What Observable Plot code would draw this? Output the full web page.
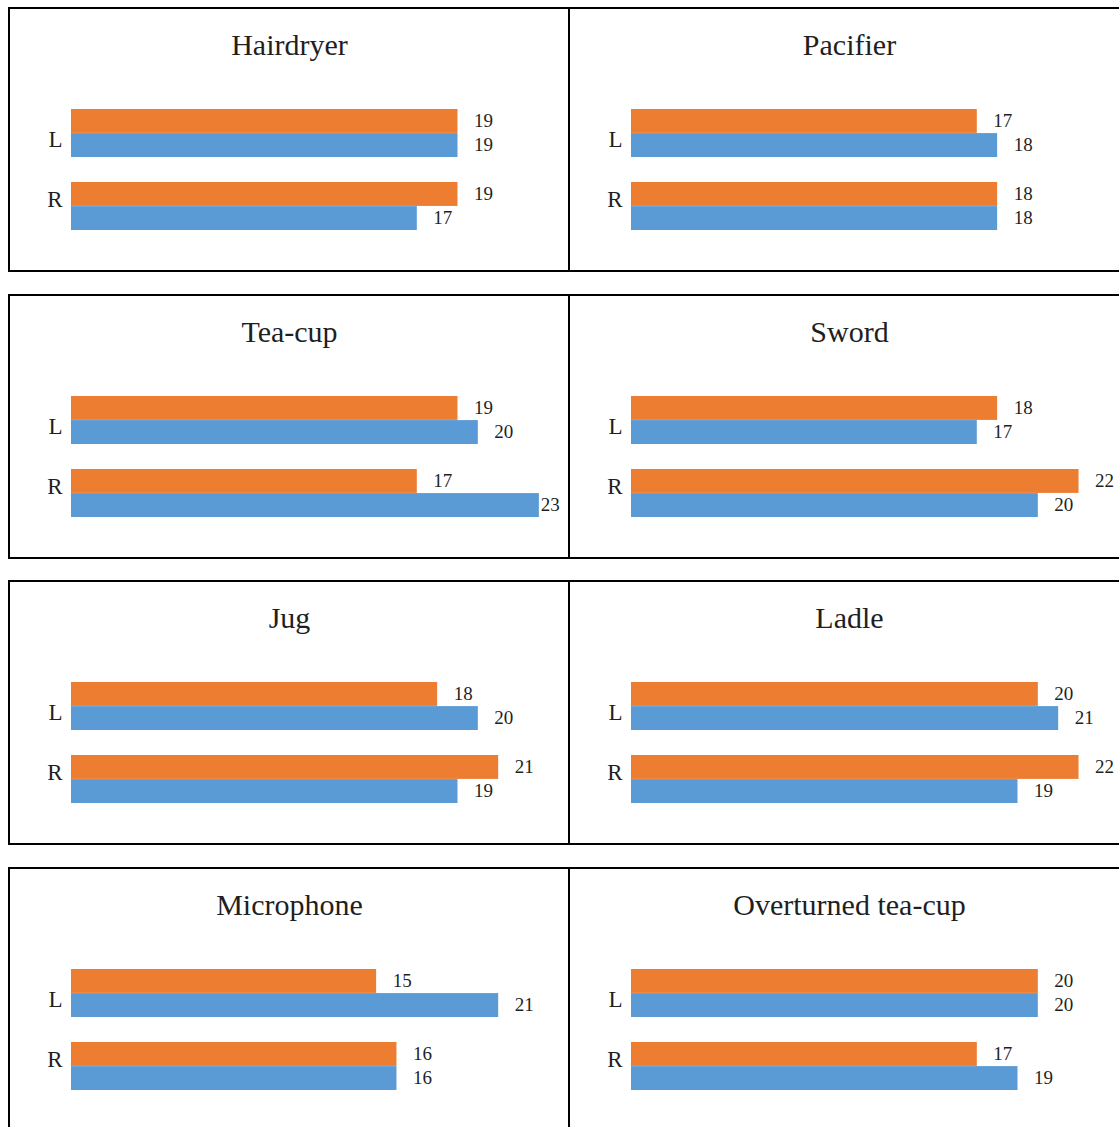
<!DOCTYPE html>
<html>
<head>
<meta charset="utf-8">
<script src="https://cdn.jsdelivr.net/npm/d3@7"></script>
<script src="https://cdn.jsdelivr.net/npm/@observablehq/plot@0.6"></script>
<style>
  html, body { margin: 0; padding: 0; background: #fff; overflow: hidden; }
  #grid { position: relative; width: 1119px; height: 1127px; overflow: hidden; }
  .panel { position: absolute; box-sizing: border-box; border: 2px solid #000; width: 562px; height: 265px; }
  .panel svg { display: block; }
</style>
</head>
<body>
<div id="grid"></div>
<script>
// Objects, one small panel each (read row by row, left to right)
const objects = ["Hairdryer", "Pacifier", "Tea-cup", "Sword", "Jug", "Ladle", "Microphone", "Overturned tea-cup"];
const sides = ["L", "R"];

// Counts per object: first (orange) and second (blue) series, for the L and R sides
const firstL  = [19, 17, 19, 18, 18, 20, 15, 20];
const secondL = [19, 18, 20, 17, 20, 21, 21, 20];
const firstR  = [19, 18, 17, 22, 21, 22, 16, 17];
const secondR = [17, 18, 23, 20, 19, 19, 16, 19];

const ORANGE = "#ED7D31";
const BLUE = "#5B9BD5";
const INK = "#1f1f1f";
const FONT = "'Liberation Serif', 'DejaVu Serif', serif";

// Panel geometry (inner box of each bordered panel)
const PANEL_W = 558, PANEL_H = 261;
const ROW_STEP = 286.7, COL_STEP = 560;
const marginLeft = 61, marginRight = 8.8, marginTop = 99.8, marginBottom = 39.8;
const xMax = 24;
const pxPerUnit = (PANEL_W - marginLeft - marginRight) / xMax;
const bandPadding = 0.342;
const bandwidth = (PANEL_H - marginTop - marginBottom) / (sides.length - bandPadding) * (1 - bandPadding);
const half = bandwidth / 2;

// Value labels sit 16px past the bar end, but stay inside the plot area
const labelGap = 16, labelWidth = 19;
const labelX = v => Math.min(v, xMax - (labelGap + labelWidth) / pxPerUnit);

const grid = document.getElementById("grid");

objects.forEach((name, i) => {
  const col = i % 2, row = Math.floor(i / 2);
  const rows = sides.map(side => ({
    side,
    first: side === "L" ? firstL[i] : firstR[i],
    second: side === "L" ? secondL[i] : secondR[i]
  }));

  const chart = Plot.plot({
    width: PANEL_W,
    height: PANEL_H,
    marginLeft, marginRight, marginTop, marginBottom,
    style: { fontFamily: FONT, background: "transparent", color: INK, overflow: "visible" },
    x: { domain: [0, xMax], axis: null },
    y: { domain: sides, paddingInner: bandPadding, paddingOuter: 0, axis: null },
    marks: [
      Plot.barX(rows, { x: "first", y: "side", fill: ORANGE, insetBottom: half }),
      Plot.barX(rows, { x: "second", y: "side", fill: BLUE, insetTop: half }),
      Plot.text(rows, {
        x: d => labelX(d.first), y: "side", text: "first",
        dx: labelGap, dy: -half / 2 - 0.5, textAnchor: "start", fontSize: 19, fill: INK
      }),
      Plot.text(rows, {
        x: d => labelX(d.second), y: "side", text: "second",
        dx: labelGap, dy: half / 2 - 0.5, textAnchor: "start", fontSize: 19, fill: INK
      }),
      // side labels
      Plot.text(["L"], { y: d => d, frameAnchor: "left", textAnchor: "end", dx: -9, dy: 6, fontSize: 23, fill: INK }),
      Plot.text(["R"], { y: d => d, frameAnchor: "left", textAnchor: "end", dx: -9, dy: -7, fontSize: 23, fill: INK }),
      // panel title, centred on the whole panel
      Plot.text([name], {
        frameAnchor: "top", lineAnchor: "bottom",
        dx: (marginRight - marginLeft) / 2, dy: -54.8,
        fontSize: 30, fill: INK
      })
    ]
  });

  const panel = document.createElement("div");
  panel.className = "panel";
  panel.style.left = (8 + col * COL_STEP) + "px";
  panel.style.top = (7 + row * ROW_STEP) + "px";
  panel.appendChild(chart);
  grid.appendChild(panel);
});
</script>
</body>
</html>
